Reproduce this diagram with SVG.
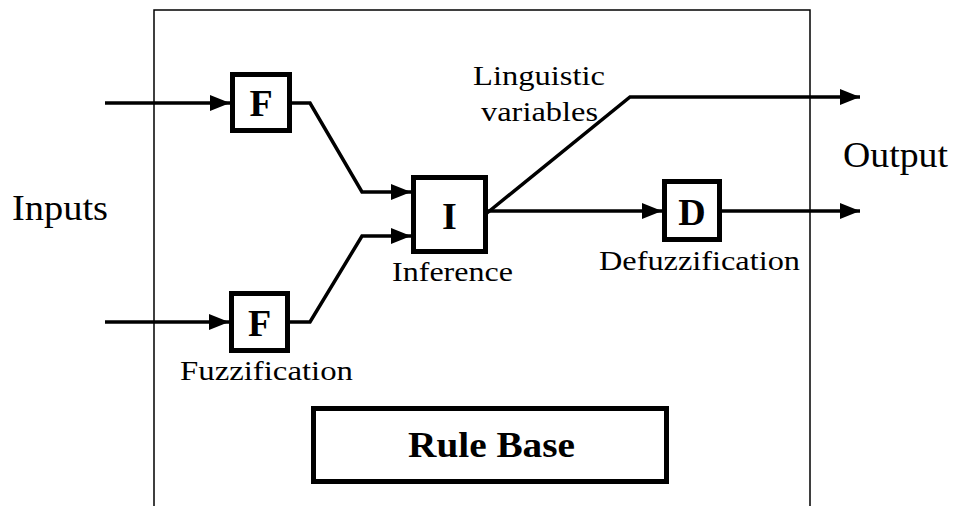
<svg xmlns="http://www.w3.org/2000/svg" width="956" height="506" viewBox="0 0 956 506">
<style>
.box{fill:#fff;stroke:#000;stroke-width:5}
.con{fill:none;stroke:#000;stroke-width:3.5}
.t{font-family:"Liberation Serif","Times New Roman",serif;fill:#000}
.lbl{font-size:28px}
.big{font-size:36px}
.let{font-size:38px;font-weight:bold}
.bold{font-weight:bold}
</style>
<defs>
<marker id="arr" markerUnits="userSpaceOnUse" markerWidth="21" markerHeight="18" refX="20" refY="8" orient="auto">
<path d="M0,0 L20,8 L0,16 z" fill="#000"/>
</marker>
</defs>
<rect width="956" height="506" fill="#fff"/>
<g id="frame">
<path d="M154,515 V10 H810 V515" fill="none" stroke="#000" stroke-width="1.5"/>
</g>
<g id="connectors">
<path class="con" d="M105,103 H230" marker-end="url(#arr)"/>
<path class="con" d="M105,322 H229" marker-end="url(#arr)"/>
<path class="con" d="M292,103 H310 L362,192 H411" marker-end="url(#arr)"/>
<path class="con" d="M290,322 H310 L362,236 H411" marker-end="url(#arr)"/>
<path class="con" d="M487,213 L630,97 H860" marker-end="url(#arr)"/>
<path class="con" d="M487,211 H662" marker-end="url(#arr)"/>
<path class="con" d="M722,211 H860" marker-end="url(#arr)"/>
</g>
<g id="F1">
<rect class="box" x="232.5" y="74.5" width="57" height="56"/>
<text class="t let" x="261" y="116" text-anchor="middle">F</text>
</g>
<g id="F2">
<rect class="box" x="231.5" y="293.5" width="56" height="57"/>
<text class="t let" x="259.5" y="336" text-anchor="middle">F</text>
</g>
<g id="I">
<rect class="box" x="413.5" y="177.5" width="72" height="74"/>
<text class="t let" x="449.5" y="229" text-anchor="middle">I</text>
</g>
<g id="D">
<rect class="box" x="664.5" y="181.5" width="55" height="58"/>
<text class="t let" x="692" y="225" text-anchor="middle">D</text>
</g>
<g id="rulebase">
<rect class="box" x="313.5" y="408.5" width="353" height="73"/>
<text class="t big bold" x="408" y="457" textLength="167" lengthAdjust="spacingAndGlyphs">Rule Base</text>
</g>
<g id="labels">
<text class="t big" x="12" y="220" textLength="96" lengthAdjust="spacingAndGlyphs">Inputs</text>
<text class="t big" x="843" y="167" textLength="105" lengthAdjust="spacingAndGlyphs">Output</text>
<text class="t lbl" x="180" y="380" textLength="173" lengthAdjust="spacingAndGlyphs">Fuzzification</text>
<text class="t lbl" x="392" y="281" textLength="121" lengthAdjust="spacingAndGlyphs">Inference</text>
<text class="t lbl" x="599" y="270" textLength="201" lengthAdjust="spacingAndGlyphs">Defuzzification</text>
<text class="t lbl" x="473" y="85" textLength="132" lengthAdjust="spacingAndGlyphs">Linguistic</text>
<text class="t lbl" x="481" y="121" textLength="117" lengthAdjust="spacingAndGlyphs">variables</text>
</g>
</svg>
